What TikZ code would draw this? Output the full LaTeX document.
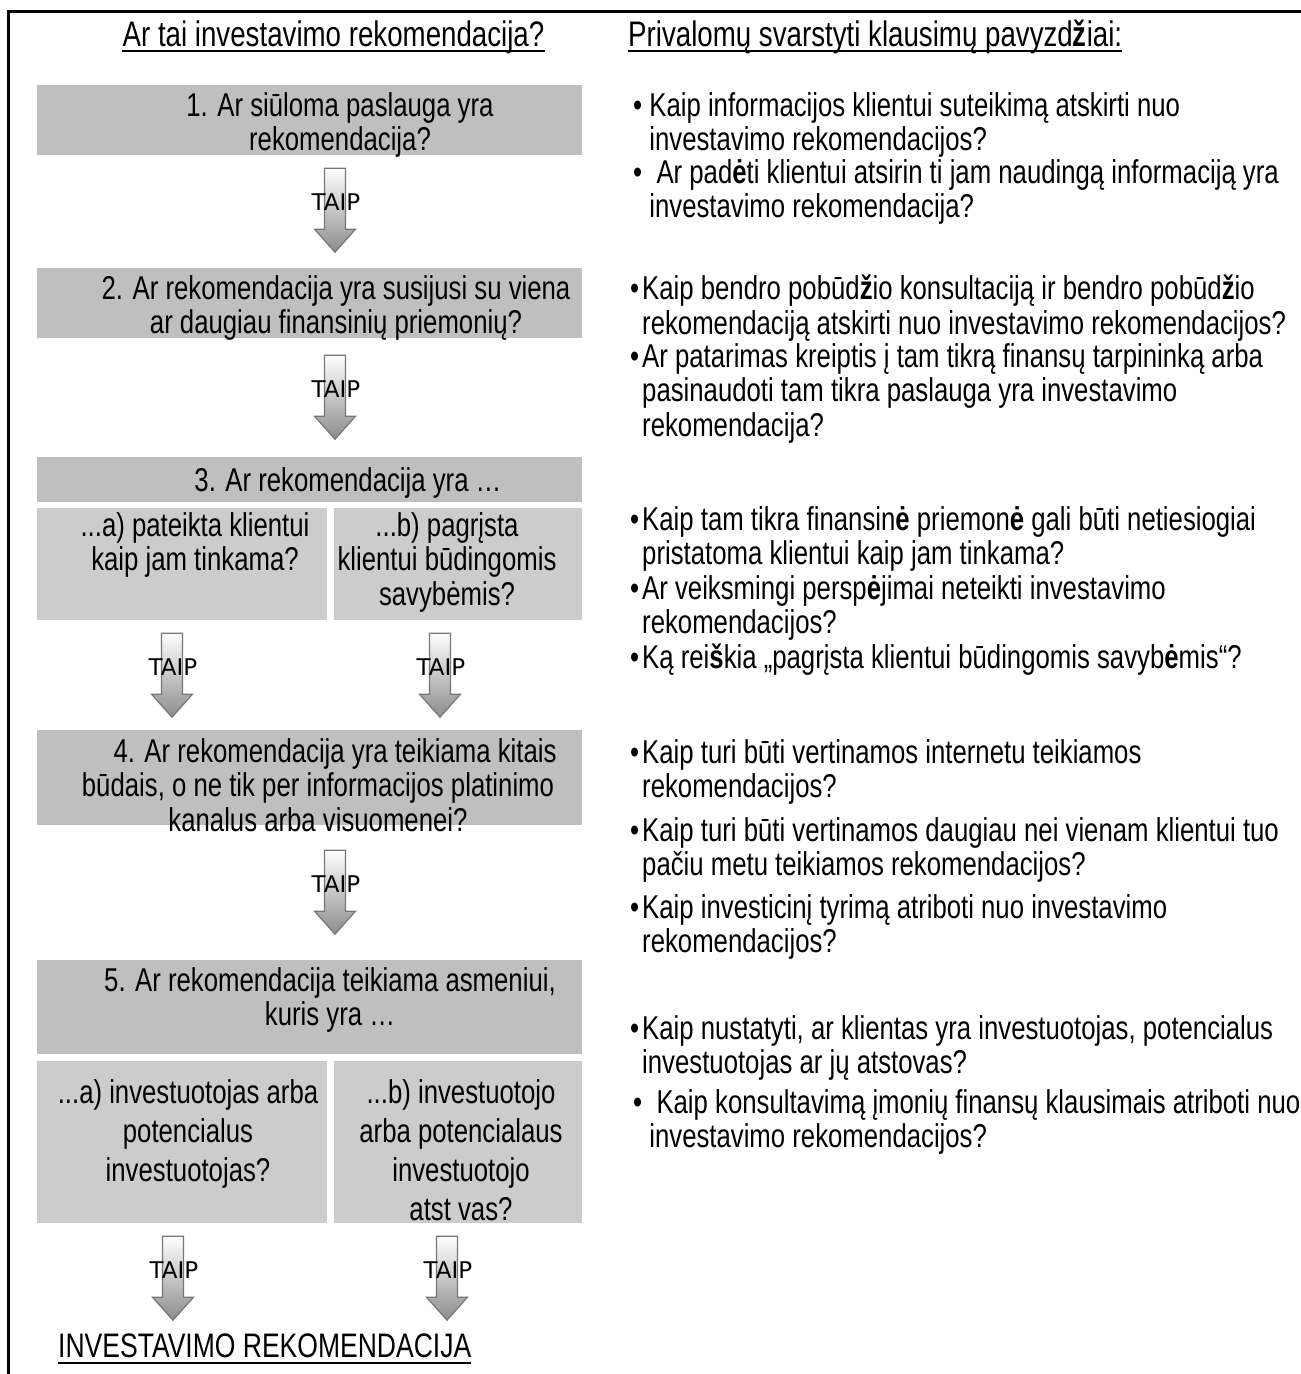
\documentclass[tikz,border=0pt]{standalone}
\usepackage{fontspec}
\setmainfont{Liberation Sans}[FakeStretch=0.78]
\newfontfamily\taipfont{DejaVu Sans}
\usetikzlibrary{calc,positioning}
\definecolor{boxgray}{RGB}{191,191,191}
\definecolor{subgray}{RGB}{204,204,204}
\definecolor{arrowgray}{RGB}{118,118,118}

\newcommand{\bodysize}{\fontsize{33}{34.5}\selectfont}
\newcommand{\hb}[1]{\textbf{#1}}
\newcommand{\bul}{\textbullet\hspace{3pt}}
\newcommand{\ind}{\phantom{\textbullet}\hspace{3pt}}
\newcommand{\indw}{\phantom{\textbullet\ }}
% block arrow with TAIP, #1 name, #2 top point
\newcommand{\taip}[2]{%
  \coordinate (#1) at (#2);
  \path[taiparrow] (#1) ++(-10.5,0) -- ++(0,61) -- ++(-10,0) -- ++(20.5,23)
    -- ++(20.5,-23) -- ++(-10,0) -- ++(0,-61) -- cycle;
  \node[taiplabel] (#1t) at ($(#1)+(1,34)$) {TAIP};}

\begin{document}
\begin{tikzpicture}[x=1pt, y=-1pt,
    qbox/.style={rectangle, fill=boxgray, inner sep=0pt},
    subbox/.style={rectangle, fill=subgray, inner sep=0pt},
    qtext/.style={font=\bodysize, align=center, anchor=north, inner sep=0pt},
    item/.style={font=\bodysize, align=left, anchor=north west, inner sep=0pt},
    head/.style={font=\fontsize{35.5}{37}\selectfont, inner sep=0pt},
    uline/.style={line width=2.5pt},
    taiparrow/.style={top color=white, bottom color=black!45, draw=arrowgray,
                      line width=1.2pt},
    taiplabel/.style={font=\taipfont\fontsize{23}{23}\selectfont, inner sep=0pt}
]
\useasboundingbox (0,0) rectangle (1301,1374);

% Frame
\draw[line width=3pt] (8,1374) -- (8,11) -- (1301,11);

% Headings
\node[head, anchor=base] (h1) at (333.5,46) {Ar tai investavimo rekomendacija?};
\node[head, anchor=base west] (h2) at (628,46) {Privalomų svarstyti klausimų pavyzd\hb{ž}iai:};
\draw[uline] ([yshift=-5pt]h1.base west) -- ([yshift=-5pt]h1.base east);
\draw[uline] ([yshift=-5pt]h2.base west) -- ([yshift=-5pt]h2.base east);

% Boxes
\node[qbox, minimum width=545pt, minimum height=70pt] (b1) at (309.5,120) {};
\node[qbox, minimum width=545pt, minimum height=70pt] (b2) at (309.5,303) {};
\node[qbox, minimum width=545pt, minimum height=45pt] (b3) at (309.5,479.5) {};
\node[subbox, minimum width=290pt, minimum height=112pt] (b3a) at (182,564) {};
\node[subbox, minimum width=248pt, minimum height=112pt] (b3b) at (458,564) {};
\node[qbox, minimum width=545pt, minimum height=95pt] (b4) at (309.5,777.5) {};
\node[qbox, minimum width=545pt, minimum height=94pt] (b5) at (309.5,1007) {};
\node[subbox, minimum width=290pt, minimum height=162pt] (b5a) at (182,1142) {};
\node[subbox, minimum width=248pt, minimum height=162pt] (b5b) at (458,1142) {};

% Box texts
\node[qtext] (t1) at (340,92) {\strut 1. Ar siūloma paslauga yra\\rekomendacija?};
\node[qtext] (t2) at (336,275) {\strut 2. Ar rekomendacija yra susijusi su viena\\ar daugiau finansinių priemonių?};
\node[qtext] (t3) at (348,467) {\strut 3. Ar rekomendacija yra …};
\node[qtext] (t3a) at (195,512) {\strut ...a) pateikta klientui\\kaip jam tinkama?};
\node[qtext] (t3b) at (447,512) {\strut ...b) pagrįsta\\klientui būdingomis\\savybėmis?};
\node[qtext] (t4) at (318,738) {\strut\hspace*{34pt}4. Ar rekomendacija yra teikiama kitais\\būdais, o ne tik per informacijos platinimo\\kanalus arba visuomenei?};
\node[qtext] (t5) at (330,967) {\strut 5. Ar rekomendacija teikiama asmeniui,\\kuris yra …};
\node[qtext, font=\fontsize{33}{39}\selectfont] (t5a) at (188,1076) {\strut ...a) investuotojas arba\\potencialus\\investuotojas?};
\node[qtext, font=\fontsize{33}{39}\selectfont] (t5b) at (461,1076) {\strut ...b) investuotojo\\arba potencialaus\\investuotojo\\atst vas?};

% Arrows
\taip{a1}{$(b1.south)+(25.5,13)$}
\taip{a2}{$(b2.south)+(25.5,17)$}
\taip{a3a}{$(b3a.south)+(-10,13)$}
\taip{a3b}{$(b3b.south)+(-18,13)$}
\taip{a4}{$(b4.south)+(25.5,25)$}
\taip{a5a}{$(b5a.south)+(-9,13)$}
\taip{a5b}{$(b5b.south)+(-11,13)$}

% Result
\node[head, font=\fontsize{34}{36}\selectfont, anchor=base west] (res) at (58,1357) {INVESTAVIMO REKOMENDACIJA};
\draw[uline] ([yshift=-6pt]res.base west) -- ([yshift=-6pt]res.base east);

% Questions to consider
\node[item] (q1) at (633,92) {\strut\textbullet\ Kaip informacijos klientui suteikimą atskirti nuo\\\indw investavimo rekomendacijos?};
\node[item] (q2) at (633,159) {\strut\textbullet\ \ Ar pad\hb{ė}ti klientui atsirin ti jam naudingą informaciją yra\\\indw investavimo rekomendacija?};
\node[item] (q3) at (630,275) {\strut\bul Kaip bendro pobūd\hb{ž}io konsultaciją ir bendro pobūd\hb{ž}io\\\ind rekomendaciją atskirti nuo investavimo rekomendacijos?};
\node[item] (q4) at (630,343) {\strut\bul Ar patarimas kreiptis į tam tikrą finansų tarpininką arba\\\ind pasinaudoti tam tikra paslauga yra investavimo\\\ind rekomendacija?};
\node[item] (q5) at (630,506) {\strut\bul Kaip tam tikra finansin\hb{ė} priemon\hb{ė} gali būti netiesiogiai\\\ind pristatoma klientui kaip jam tinkama?};
\node[item] (q6) at (630,575) {\strut\bul Ar veiksmingi persp\hb{ė}jimai neteikti investavimo\\\ind rekomendacijos?};
\node[item] (q7) at (630,644) {\strut\bul Ką rei\hb{š}kia „pagrįsta klientui būdingomis savyb\hb{ė}mis“?};
\node[item] (q8) at (630,739) {\strut\bul Kaip turi būti vertinamos internetu teikiamos\\\ind rekomendacijos?};
\node[item] (q9) at (630,817) {\strut\bul Kaip turi būti vertinamos daugiau nei vienam klientui tuo\\\ind pačiu metu teikiamos rekomendacijos?};
\node[item] (q10) at (630,894) {\strut\bul Kaip investicinį tyrimą atriboti nuo investavimo\\\ind rekomendacijos?};
\node[item] (q11) at (630,1015) {\strut\bul Kaip nustatyti, ar klientas yra investuotojas, potencialus\\\ind investuotojas ar jų atstovas?};
\node[item] (q12) at (633,1089) {\strut\textbullet\ \ Kaip konsultavimą įmonių finansų klausimais atriboti nuo\\\indw investavimo rekomendacijos?};

\end{tikzpicture}
\end{document}
